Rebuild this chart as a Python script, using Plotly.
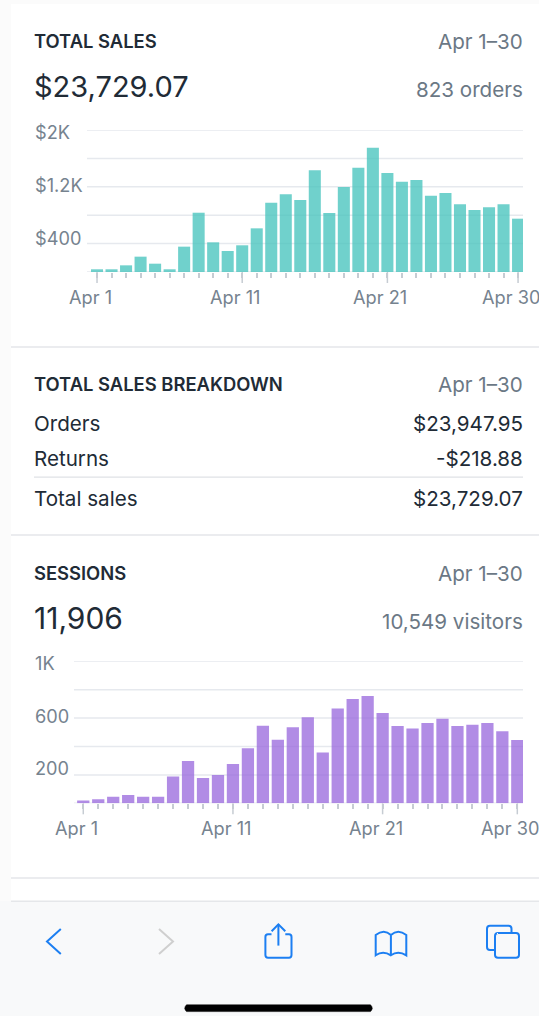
import plotly.graph_objects as go

W, H = 539, 1016
days = list(range(1, 31))
sales = [38, 38, 94, 216, 117, 38, 357, 835, 418, 296, 376, 615, 976, 1094, 1014, 1432, 831, 1197, 1469, 1751,
         1394, 1272, 1296, 1075, 1113, 953, 873, 911, 953, 751]
sessions = [19, 28, 47, 59, 47, 47, 188, 298, 178, 199, 277, 387, 547, 448, 535, 606, 357, 667, 735, 756,
            636, 545, 526, 566, 596, 545, 554, 566, 507, 446]
major_days = [1, 11, 21, 30]
major_labels = ["Apr 1", "Apr 11", "Apr 21", "Apr 30"]
sales_grid = [0, 400, 800, 1200, 1600, 2000]
sessions_grid = [0, 200, 400, 600, 800, 1000]
sales_labels = {2000: "$2K", 1200: "$1.2K", 400: "$400"}
session_labels = {1000: "1K", 600: "600", 200: "200"}
breakdown = [("Orders", "$23,947.95"), ("Returns", "-$218.88"), ("Total sales", "$23,729.07")]

FONT = "Inter, 'Noto Sans', sans-serif"
DARK, GRAY, AXIS = "#212b36", "#6b7885", "#76838f"
GRID = "#e6e9ee"
TICKC = "#c6ccd3"
BLUE = "#1c7ff2"
BODY = 20.6
TICK = 18.2


def px(x): return x / W
def py(y): return 1 - y / H


fig = go.Figure()
fig.add_bar(x=days, y=sales, xaxis="x", yaxis="y", width=0.83,
            marker=dict(color="rgba(72,196,190,0.78)", line=dict(width=0)))
fig.add_bar(x=days, y=sessions, xaxis="x2", yaxis="y2", width=0.82,
            marker=dict(color="rgba(150,100,220,0.74)", line=dict(width=0)))


def xaxis(left, right, rng, anchor):
    return dict(domain=[px(left), px(right)], range=rng, anchor=anchor, showgrid=False, zeroline=False,
                tickmode="array", tickvals=days, ticktext=[""] * len(days), ticks="outside", ticklen=5,
                tickcolor=TICKC, tickwidth=1.5, showline=False)


def yaxis(top, base, rng, anchor):
    return dict(domain=[py(base), py(top)], range=rng, anchor=anchor, showgrid=False, showticklabels=False,
                zeroline=False, showline=False, ticks="")


fig.update_layout(
    width=W, height=H, margin=dict(l=0, r=0, t=0, b=0), autosize=False, showlegend=False,
    paper_bgcolor="#ffffff", plot_bgcolor="rgba(0,0,0,0)", bargap=0.17,
    font=dict(family=FONT),
    xaxis=xaxis(87, 523, [0.31, 30.34], "y"),
    yaxis=yaxis(130, 272, [0, 2000], "x"),
    xaxis2=xaxis(74, 523, [0.38, 30.38], "y2"),
    yaxis2=yaxis(661.3, 803.3, [0, 1000], "x2"),
)

annotations = []


def text(x, y, s, anchor="left", size=BODY, color=DARK, weight=400):
    annotations.append(dict(x=px(x), y=py(y), xref="paper", yref="paper", text=s, showarrow=False,
                            xanchor=anchor, yanchor="middle",
                            font=dict(family=FONT, size=size, color=color, weight=weight),
                            borderpad=0, borderwidth=0))


def header(y, title):
    text(34, y, title, size=18.4, weight=600)
    text(523, y, "Apr 1\u201330", "right", BODY, GRAY)


header(41, "TOTAL SALES")
text(34, 87, "$23,729.07", size=29)
text(523, 89.5, "823 orders", "right", BODY, GRAY)
header(384, "TOTAL SALES BREAKDOWN")
for (name, val), y in zip(breakdown, [424, 458, 498]):
    text(34, y, name)
    text(523, y, val, "right")
header(573, "SESSIONS")
text(34, 618, "11,906", size=30)
text(523, 621, "10,549 visitors", "right", BODY, GRAY)

for ax, labels, shifts in (("y", sales_labels, [-2, 2, 6]), ("y2", session_labels, [-2, 2, 7])):
    for (v, s), sh in zip(labels.items(), shifts):
        annotations.append(dict(x=px(34), xref="paper", xanchor="left", y=v, yref=ax, yshift=sh, text=s,
                                showarrow=False, borderpad=0,
                                font=dict(family=FONT, size=TICK, color=AXIS)))
for xr, ly in (("x", 297), ("x2", 828)):
    for d, s in zip(major_days, major_labels):
        annotations.append(dict(x=d, xref=xr, xanchor="center", xshift=-7, y=py(ly), yref="paper",
                                yanchor="middle", text=s, showarrow=False, borderpad=0,
                                font=dict(family=FONT, size=TICK, color=AXIS)))
fig.update_layout(annotations=annotations)

shapes = []


def rect(x0, y0, x1, y1, color, layer="below"):
    shapes.append(dict(type="rect", xref="paper", yref="paper", x0=px(x0), x1=px(x1), y0=py(y0), y1=py(y1),
                       fillcolor=color, line=dict(width=0), layer=layer))


def path(cmds, color=BLUE, width=2, fill=None):
    out = []
    for c in cmds:
        out.append(c if isinstance(c, str) else f"{px(c[0]):.5f},{py(c[1]):.5f}")
    shapes.append(dict(type="path", xref="paper", yref="paper", path=" ".join(out),
                       line=dict(color=color, width=width), layer="above",
                       **({"fillcolor": fill} if fill else {})))


# page frame and dividers
rect(0, 0, 11, 901, "#fbfbfb")
rect(0, 0, W, 4, "#fbfbfb")
for y in (347, 535, 878):
    rect(11, y - 0.7, W, y + 0.7, "#e4e6ea")
rect(34, 476.4, 523, 477.8, "#dfe2e6")
rect(0, 901, W, H, "#f8f9fa")
rect(11, 900.4, W, 902, "#e5e7ea")

# gridlines, including the first and last values
for yr, xr, vals in (("y", "x domain", sales_grid), ("y2", "x2 domain", sessions_grid)):
    for v in vals:
        shapes.append(dict(type="line", xref=xr, yref=yr, x0=0, x1=1, y0=v, y1=v,
                           line=dict(color=GRID, width=1.5), layer="below"))

# longer ticks at the labelled days
for xr, base in (("x", 272), ("x2", 803.3)):
    for d in major_days:
        shapes.append(dict(type="line", xref=xr, yref="paper", x0=d, x1=d, y0=py(base), y1=py(base + 11),
                           line=dict(color=TICKC, width=1.5), layer="above"))

# toolbar icons
path(["M", (60.8, 929), "L", (47, 941.5), "L", (60.8, 954)])
path(["M", (159, 929), "L", (173, 941.5), "L", (159, 954)], "#cfcfcf")
path(["M", (271.5, 934.3), "L", (268, 934.3), "Q", (265.4, 934.3), (265.4, 937), "L", (265.4, 955),
      "Q", (265.4, 957.7), (268, 957.7), "L", (289, 957.7), "Q", (291.5, 957.7), (291.5, 955),
      "L", (291.5, 937), "Q", (291.5, 934.3), (289, 934.3), "L", (285.3, 934.3)])
path(["M", (278.4, 945.6), "L", (278.4, 924.3)])
path(["M", (271.6, 931.2), "L", (278.4, 924.3), "L", (285.3, 931.2)])
path(["M", (390.9, 955), "L", (390.9, 935), "Q", (384, 928.5), (375.7, 935), "L", (375.7, 955.3),
      "Q", (383, 950), (390.9, 955.3), "Q", (398, 950), (406.3, 955.3), "L", (406.3, 935),
      "Q", (398, 928.5), (390.9, 935)])
path(["M", (498, 933), "L", (516, 933), "Q", (519, 933), (519, 936), "L", (519, 955), "Q", (519, 957.7), (516, 957.7),
      "L", (498, 957.7), "Q", (495, 957.7), (495, 955), "L", (495, 936), "Q", (495, 933), (498, 933)])
path(["M", (495, 950), "L", (490, 950), "Q", (487, 950), (487, 947), "L", (487, 928.7), "Q", (487, 925.7), (490, 925.7),
      "L", (508.5, 925.7), "Q", (511.5, 925.7), (511.5, 928.7), "L", (511.5, 933)])
path(["M", (186.5, 1004.8), "L", (370.5, 1004.8), "Q", (374, 1008.2), (370.5, 1011.6), "L", (186.5, 1011.6),
      "Q", (183, 1008.2), (186.5, 1004.8), "Z"], "#000000", 0.5, "#000000")
fig.update_layout(shapes=shapes)

fig.write_html("out.html", config=dict(displayModeBar=False),
               post_script="document.body.style.margin='0';document.documentElement.style.overflow='hidden';")
